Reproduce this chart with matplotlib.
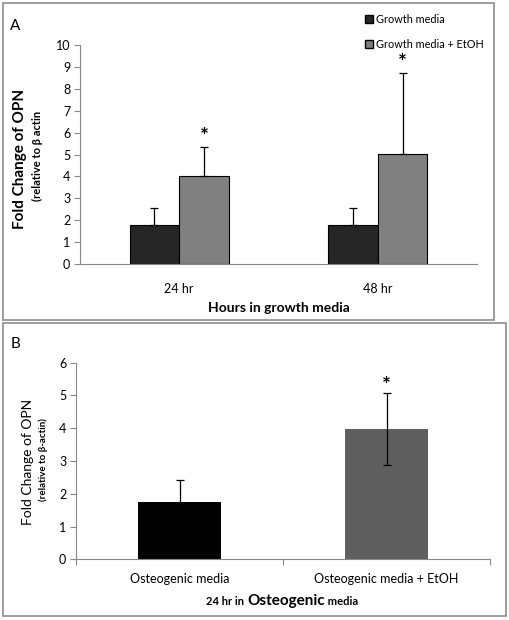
import matplotlib
matplotlib.use('Agg')
import matplotlib.pyplot as plt
import numpy as np
from matplotlib.patches import Rectangle, Patch
from matplotlib.offsetbox import TextArea, HPacker, AnnotationBbox

plt.rcParams['font.family'] = ['Lato', 'DejaVu Sans']

# Panel A data
a_groups = ['24 hr', '48 hr']
a_growth = [1.79, 1.79]
a_growth_err = [0.77, 0.77]
a_etoh = [4.04, 5.01]
a_etoh_err = [1.32, 3.70]

# Panel B data
b_labels = ['Osteogenic media', 'Osteogenic media + EtOH']
b_vals = [1.76, 3.98]
b_err = [0.65, 1.09]

W, H = 509, 620
fig = plt.figure(figsize=(W / 100, H / 100), dpi=100)


def px_axes(x0, y_top, x1, y_bot):
    """Axes from pixel coordinates (origin top-left)."""
    return fig.add_axes([x0 / W, 1 - y_bot / H, (x1 - x0) / W, (y_bot - y_top) / H])


# panel frames
fig.patches.append(Rectangle((3 / W, 1 - 320 / H), 491 / W, 317 / H, transform=fig.transFigure,
                             fill=False, edgecolor='#8c8c8c', linewidth=1.2))
fig.patches.append(Rectangle((3 / W, 1 - 616 / H), 503 / W, 293 / H, transform=fig.transFigure,
                             fill=False, edgecolor='#8c8c8c', linewidth=1.2))

# ---------------- Panel A ----------------
axA = px_axes(80, 45, 477, 264)
x = np.arange(len(a_groups))
bw = 0.25
axA.bar(x - bw / 2, a_growth, bw, color='#262626', edgecolor='black', linewidth=0.8,
        yerr=[[0] * 2, a_growth_err], capsize=3, error_kw=dict(ecolor='black', elinewidth=0.9, capthick=0.9))
axA.bar(x + bw / 2, a_etoh, bw, color='#808080', edgecolor='black', linewidth=0.8,
        yerr=[[0] * 2, a_etoh_err], capsize=3, error_kw=dict(ecolor='black', elinewidth=0.9, capthick=0.9))
for xi, v, e in zip(x, a_etoh, a_etoh_err):
    axA.annotate('*', (xi + bw / 2, v + e), xytext=(0, 0), textcoords='offset points',
                 ha='center', va='bottom', fontsize=15, fontweight='bold')
axA.set_xlim(-0.5, 1.5)
axA.set_ylim(0, 10)
axA.set_yticks(range(0, 11))
axA.set_xticks(x)
axA.set_xticklabels(a_groups, fontsize=9)
axA.tick_params(axis='x', length=0, pad=14)
axA.tick_params(axis='y', direction='out', length=4, color='#888888', labelsize=9, pad=3)
for s in ['top', 'right']:
    axA.spines[s].set_visible(False)
for s in ['left', 'bottom']:
    axA.spines[s].set_color('#888888')
axA.set_xlabel('Hours in growth media', fontsize=10, fontweight='bold', labelpad=5)
fig.text(20 / W, 1 - 159 / H, 'Fold Change of OPN', rotation=90, fontsize=11, fontweight='bold',
         ha='center', va='center')
fig.text(37 / W, 1 - 156 / H, '(relative to \u03b2 actin', rotation=90, fontsize=8, fontweight='bold',
         ha='center', va='center')
fig.text(15 / W, 1 - 26 / H, 'A', fontsize=11, ha='center', va='center')
handles = [Patch(facecolor='#262626', edgecolor='black', label='Growth media'),
           Patch(facecolor='#808080', edgecolor='black', label='Growth media + EtOH')]
fig.legend(handles=handles, loc='upper left', bbox_to_anchor=(365 / W, 1 - 14 / H), frameon=False,
           handlelength=0.75, handleheight=0.75, handletextpad=0.3, labelspacing=1.3,
           borderpad=0, borderaxespad=0, fontsize=7.8)

# ---------------- Panel B ----------------
axB = px_axes(76, 362.7, 490, 559.3)
xb = np.arange(len(b_labels))
axB.bar(xb, b_vals, 0.4, color=['#000000', '#5f5f5f'],
        yerr=b_err, capsize=3, error_kw=dict(ecolor='black', elinewidth=0.9, capthick=0.9))
axB.annotate('*', (xb[1], b_vals[1] + b_err[1]), xytext=(0, -2), textcoords='offset points',
             ha='center', va='bottom', fontsize=15, fontweight='bold')
axB.set_xlim(-0.5, 1.5)
axB.set_ylim(0, 6)
axB.set_yticks(range(0, 7))
axB.set_xticks([-0.5, 0.5, 1.5])
axB.set_xticklabels([])
axB.set_xticks(xb, minor=True)
axB.set_xticklabels(b_labels, minor=True, fontsize=9)
axB.tick_params(axis='x', which='major', direction='out', length=4, color='#888888')
axB.tick_params(axis='x', which='minor', length=0, pad=10)
axB.tick_params(axis='y', direction='out', length=4, color='#888888', labelsize=9, pad=3)
for s in ['top', 'right']:
    axB.spines[s].set_visible(False)
for s in ['left', 'bottom']:
    axB.spines[s].set_color('#888888')
fig.text(28 / W, 1 - 462 / H, 'Fold Change of OPN', rotation=90, fontsize=10,
         ha='center', va='center')
fig.text(43 / W, 1 - 460 / H, '(relative to \u03b2-actin)', rotation=90, fontsize=7, fontweight='bold',
         ha='center', va='center')
fig.text(15 / W, 1 - 344 / H, 'B', fontsize=11, ha='center', va='center')

parts = [TextArea('24 hr in ', textprops=dict(fontsize=8, fontweight='bold')),
         TextArea('Osteogenic', textprops=dict(fontsize=11, fontweight='bold')),
         TextArea(' media', textprops=dict(fontsize=8, fontweight='bold'))]
pack = HPacker(children=parts, align='baseline', pad=0, sep=0)
ab = AnnotationBbox(pack, (282 / W, 1 - 601 / H), xycoords='figure fraction', frameon=False,
                    box_alignment=(0.5, 0.5))
fig.add_artist(ab)

fig.savefig('out.png', dpi=100)
